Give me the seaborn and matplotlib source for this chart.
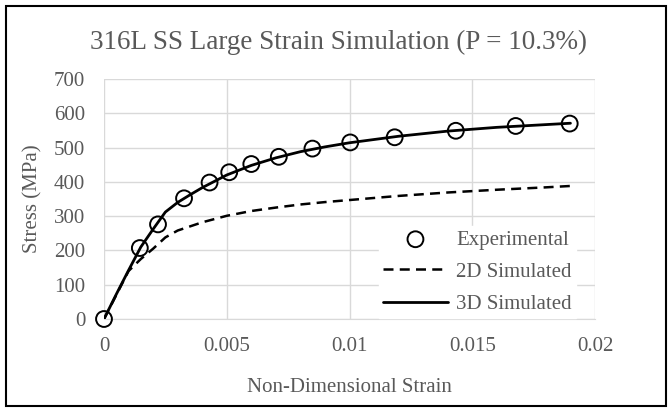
import matplotlib
matplotlib.use("Agg")
import matplotlib.pyplot as plt
import seaborn as sns
import pandas as pd
from matplotlib.patches import Rectangle

# Data
exp_strain = [0.0, 0.00146, 0.0022, 0.00326, 0.0043, 0.0051, 0.0060, 0.00712, 0.00849, 0.01003, 0.01184, 0.01433, 0.01677, 0.01897]
exp_stress = [0, 207, 276, 352, 398, 428, 452, 473, 497, 515, 530, 549, 563, 570]

sim3d_strain = [0.0, 0.0005, 0.001, 0.0015, 0.002, 0.0025, 0.003, 0.0035, 0.004, 0.005, 0.006, 0.007, 0.008, 0.009, 0.010, 0.012, 0.014, 0.016, 0.018, 0.019]
sim3d_stress = [0, 72, 142, 210, 262, 312, 340, 362, 383, 420, 448, 470, 488, 502, 514, 533, 548, 559, 567, 571]

sim2d_strain = [0.0, 0.0005, 0.001, 0.0015, 0.002, 0.0025, 0.003, 0.0035, 0.004, 0.005, 0.006, 0.007, 0.008, 0.009, 0.010, 0.012, 0.014, 0.016, 0.018, 0.019]
sim2d_stress = [0, 70, 140, 175, 205, 238, 258, 270, 282, 301, 315, 325, 334, 341, 347, 359, 369, 377, 384, 388]

title = "316L SS Large Strain Simulation (P = 10.3%)"
xlabel = "Non-Dimensional Strain"
ylabel = "Stress (MPa)"
xticks = [0, 0.005, 0.01, 0.015, 0.02]
xticklabels = ["0", "0.005", "0.01", "0.015", "0.02"]
yticks = [0, 100, 200, 300, 400, 500, 600, 700]

sns.set_style("white")
plt.rcParams['font.family'] = ['Liberation Serif', 'DejaVu Serif']

W, H = 668, 409
gray = "#595959"
fig = plt.figure(figsize=(6.68, 4.09), dpi=100)
ax = fig.add_axes([104/W, 1-319/H, (595-104)/W, (319-79)/H])

df_exp = pd.DataFrame({"strain": exp_strain, "stress": exp_stress})
df_3d = pd.DataFrame({"strain": sim3d_strain, "stress": sim3d_stress})
df_2d = pd.DataFrame({"strain": sim2d_strain, "stress": sim2d_stress})

sns.lineplot(data=df_2d, x="strain", y="stress", ax=ax, color="black", lw=1.8,
             linestyle=(0, (4, 2.5)), label="2D Simulated", zorder=3)
sns.lineplot(data=df_3d, x="strain", y="stress", ax=ax, color="black", lw=2.0,
             label="3D Simulated", zorder=4)
sns.scatterplot(data=df_exp, x="strain", y="stress", ax=ax, marker="o", s=130,
                facecolor="none", edgecolor="black", linewidth=1.4,
                label="Experimental", zorder=5, clip_on=False)

ax.set_xlim(0, 0.02)
ax.set_ylim(0, 700)
ax.set_xticks(xticks)
ax.set_xticklabels(xticklabels)
ax.set_yticks(yticks)
ax.grid(True, color="#d9d9d9", lw=1.0)
ax.set_axisbelow(True)
for s in ["top", "right", "left"]:
    ax.spines[s].set_visible(False)
ax.spines["bottom"].set_color("#d9d9d9")
ax.tick_params(axis="both", colors=gray, labelsize=15, length=0)
ax.tick_params(axis="x", pad=13)
ax.tick_params(axis="y", pad=13.5)
ax.set_xlabel(xlabel, color=gray, fontsize=15, va="center")
ax.set_ylabel(ylabel, color=gray, fontsize=15, va="center")
ax.xaxis.set_label_coords(0.5, (319-388)/240)
ax.yaxis.set_label_coords((33-104)/491, 0.5)
fig.text(339/W, 1-42/H, title, ha="center", va="center", color=gray, fontsize=19.5)

handles, labels = ax.get_legend_handles_labels()
order = [labels.index("Experimental"), labels.index("2D Simulated"), labels.index("3D Simulated")]
leg = ax.legend([handles[i] for i in order], [labels[i] for i in order],
                loc="center left", bbox_to_anchor=(379/W, 1-272/H),
                bbox_transform=fig.transFigure, frameon=True, fontsize=15,
                labelcolor=gray, handlelength=3.1, handletextpad=0.4,
                labelspacing=0.6, borderpad=0.2, borderaxespad=0)
leg.get_frame().set_edgecolor("white")
leg.get_frame().set_facecolor("white")
leg.get_frame().set_alpha(1)
leg.get_frame().set_boxstyle("square", pad=0)

fig.patches.append(Rectangle((6/W, 3/H), 660/W, 400/H, transform=fig.transFigure,
                             fill=False, edgecolor="black", lw=1.5))
fig.savefig("out.png", dpi=100)
